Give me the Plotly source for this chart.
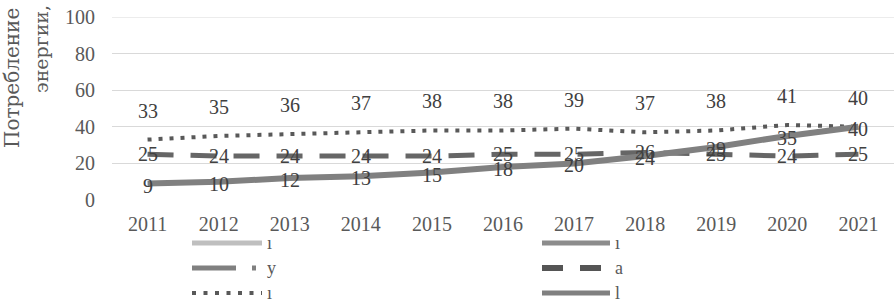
import plotly.graph_objects as go

years = ["2011", "2012", "2013", "2014", "2015", "2016", "2017", "2018", "2019", "2020", "2021"]
dotted_vals = [33, 35, 36, 37, 38, 38, 39, 37, 38, 41, 40]
dashed_vals = [25, 24, 24, 24, 24, 25, 25, 26, 25, 24, 25]
solid_vals = [9, 10, 12, 13, 15, 18, 20, 24, 29, 35, 40]
y_ticks = [0, 20, 40, 60, 80, 100]
title_lines = ["Потребление", "энергии,"]
legend_names = ["ı", "у", "ı", "ı", "а", "l"]

W, H = 896, 299
ML, MR, MT, MB = 112, 2, 17, 99
PW, PH = W - ML - MR, H - MT - MB

def px(xp):
    return (xp - ML) / PW

def py(yp):
    return (H - MB - yp) / PH

FONT = "Liberation Serif, Times New Roman, serif"
TXT = "#595959"
LBL = "#404040"
GRID = "#d9d9d9"

fig = go.Figure()
fig.add_trace(go.Scatter(x=years, y=dotted_vals, mode="lines",
                         line=dict(color="#595959", width=4, dash="4px,7px"),
                         showlegend=False))
fig.add_trace(go.Scatter(x=years, y=dashed_vals, mode="lines",
                         line=dict(color="#666666", width=5, dash="26px,17px"),
                         showlegend=False))
fig.add_trace(go.Scatter(x=years, y=solid_vals, mode="lines",
                         line=dict(color="#808080", width=6),
                         showlegend=False))

annotations = []
# category axes take the category index for annotation positions
for i, v in enumerate(dotted_vals):
    annotations.append(dict(x=i, y=v, xref="x", yref="y", text=str(v), showarrow=False, yshift=29,
                            font=dict(family=FONT, size=20, color=LBL)))
for i, v in enumerate(dashed_vals):
    annotations.append(dict(x=i, y=v, xref="x", yref="y", text=str(v), showarrow=False, yshift=0,
                            font=dict(family=FONT, size=20, color=LBL)))
for i, v in enumerate(solid_vals):
    annotations.append(dict(x=i, y=v, xref="x", yref="y", text=str(v), showarrow=False, yshift=-2,
                            font=dict(family=FONT, size=20, color=LBL)))

# rotated y-axis title (cropped at top in reference)
TFONT = "DejaVu Serif, serif"
annotations.append(dict(xref="paper", yref="paper", x=px(12), y=py(149), text=title_lines[0],
                        textangle=-90, showarrow=False, xanchor="center", yanchor="bottom",
                        borderpad=0, font=dict(family=TFONT, size=20, color=TXT)))
annotations.append(dict(xref="paper", yref="paper", x=px(41), y=py(94), text=title_lines[1],
                        textangle=-90, showarrow=False, xanchor="center", yanchor="bottom",
                        borderpad=0, font=dict(family=TFONT, size=19, color=TXT)))

shapes = []
# top gridline (plotly omits the grid line lying on the range edge)
shapes.append(dict(type="line", xref="paper", yref="y", x0=0, x1=1, y0=y_ticks[-1], y1=y_ticks[-1],
                   line=dict(color=GRID, width=1), layer="below"))
# manual legend
rows = [243, 268, 293]
legend_items = [
    (192, 262, rows[0], "#bfbfbf", 5, "solid"),
    (192, 262, rows[1], "#808080", 5, "44px,16px,4px,40px"),
    (192, 262, rows[2], "#595959", 4, "4px,7.5px"),
    (542, 610, rows[0], "#8c8c8c", 5, "solid"),
    (542, 610, rows[1], "#555555", 6, "21px,17px"),
    (542, 610, rows[2], "#808080", 5, "solid"),
]
for (x0, x1, yy, col, w, d), name in zip(legend_items, legend_names):
    shapes.append(dict(type="line", xref="paper", yref="paper", x0=px(x0), x1=px(x1),
                       y0=py(yy), y1=py(yy), line=dict(color=col, width=w, dash=d)))
    annotations.append(dict(xref="paper", yref="paper", x=px(x1 + 3), y=py(yy), text=name,
                            showarrow=False, xanchor="left", yanchor="middle",
                            font=dict(family=FONT, size=18, color=TXT)))

fig.update_layout(
    width=W, height=H,
    margin=dict(l=ML, r=MR, t=MT, b=MB),
    plot_bgcolor="white", paper_bgcolor="white",
    showlegend=False,
    annotations=annotations,
    shapes=shapes,
    xaxis=dict(type="category", range=[-0.5, len(years) - 0.5], showgrid=False,
               showline=False, zeroline=False,
               tickfont=dict(family=FONT, size=20, color=TXT), ticks="",
               ticklabelstandoff=10),
    yaxis=dict(range=[0, 100], tickvals=y_ticks, showgrid=True, gridcolor=GRID,
               gridwidth=1, zeroline=False, showline=False, ticks="",
               tickfont=dict(family=FONT, size=20, color=TXT), ticklabelstandoff=16),
)

fig.write_html("out.html", config={"displayModeBar": False},
               post_script="document.body.style.margin='0';document.body.style.overflow='hidden';")
